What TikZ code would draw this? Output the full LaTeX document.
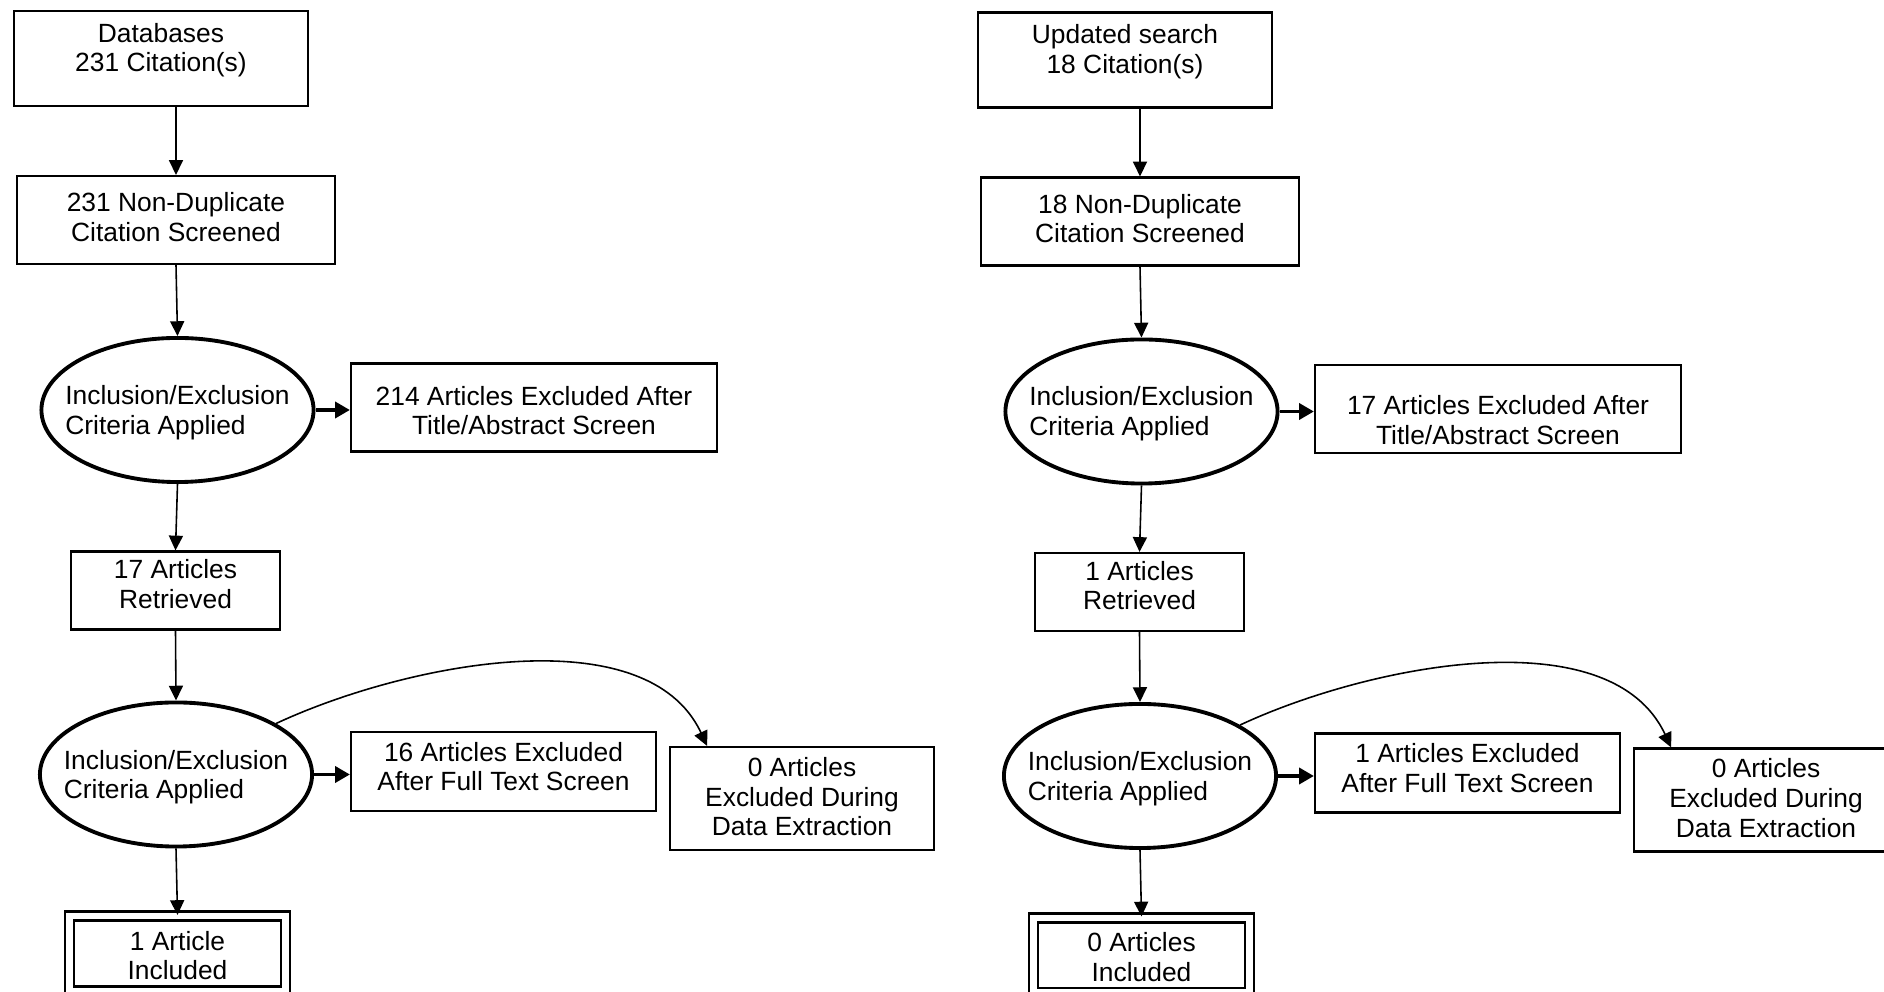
\documentclass[tikz,border=0pt]{standalone}
\usepackage{fontspec}
\setmainfont{Liberation Sans}
\usetikzlibrary{arrows.meta,shapes.geometric}
% invisible strut that pushes a first line down
\newcommand{\firstdrop}[1]{\rule{0pt}{#1}}

\begin{document}
\begin{tikzpicture}[x=0.01cm, y=0.01cm,
    flowbox/.style={draw, line width=0.6pt, align=center, inner sep=0pt,
      font=\fontsize{7.5}{8.4}\selectfont},
    textup/.style={execute at end node={\rule[-#1]{0pt}{0pt}}},
    critoval/.style={draw, ellipse, line width=1.1pt, inner sep=0pt,
      minimum width=2.72cm, minimum height=1.44cm},
    critlabel/.style={align=left, inner sep=0pt, yshift=-0.7pt,
      font=\fontsize{7.5}{8.4}\selectfont},
    finalbox/.style={flowbox, double, line width=0.77pt, double distance=1.8pt},
    arr/.style={-{Triangle[length=4.2pt,width=4pt]}, line width=0.45pt},
    sidearr/.style={-{Triangle[length=4.2pt,width=4.6pt]}, line width=0.9pt}]
    \useasboundingbox (0,0) rectangle (1884,-992);
    \clip (0,0) rectangle (1884,-992);

    % first search
    \node[flowbox, textup=6.15pt, minimum width=2.94cm, minimum height=0.95cm] (searchL) at (161,-58.5) {Databases\\231 Citation(s)};
    \node[flowbox, textup=1.6pt, minimum width=3.18cm, minimum height=0.88cm] (dedupL) at (176,-220) {231 Non-Duplicate\\Citation Screened};
    \node[critoval, label={[critlabel]center:{Inclusion/Exclusion\\Criteria Applied}}] (titleL) at (177.5,-410) {};
    \node[flowbox, minimum width=3.66cm, minimum height=0.88cm] (exTitleL) at (534,-407.5) {\firstdrop{7.2pt}214 Articles Excluded After\\Title/Abstract Screen};
    \node[flowbox, textup=3.75pt, minimum width=2.09cm, minimum height=0.78cm] (retrL) at (175.5,-590.5) {17 Articles\\Retrieved};
    \node[critoval, label={[critlabel]center:{Inclusion/Exclusion\\Criteria Applied}}] (fullL) at (176,-774.5) {};
    \node[flowbox, textup=3pt, minimum width=3.05cm, minimum height=0.79cm] (exFullL) at (503.5,-771.5) {16 Articles Excluded\\After Full Text Screen};
    \node[flowbox, textup=1.15pt, minimum width=2.64cm, minimum height=1.03cm] (exDataL) at (802,-798.5) {0 Articles\\Excluded During\\Data Extraction};
    \node[finalbox, minimum width=2.16cm, minimum height=0.747cm] (inclL) at (177.5,-953.7) {\firstdrop{6.6pt}1 Article\\Included};

    \draw[arr] (searchL.south -| dedupL.north) -- (dedupL.north);
    \draw[arr] (dedupL.south) -- (titleL.north);
    \draw[sidearr] (titleL.east) -- (titleL.east -| exTitleL.west);
    \draw[arr] (titleL.south) -- (retrL.north);
    \draw[arr] (retrL.south) -- (fullL.north);
    \draw[sidearr] (fullL.east) -- (fullL.east -| exFullL.west);
    \draw[arr] (fullL.27) to[out=25, in=115, looseness=0.85] (exDataL.151);
    \draw[arr] (fullL.south) -- (inclL.north);

    % updated search
    \node[flowbox, textup=6.15pt, minimum width=2.94cm, minimum height=0.95cm] (searchR) at (1125,-60) {Updated search\\18 Citation(s)};
    \node[flowbox, textup=1.6pt, minimum width=3.18cm, minimum height=0.88cm] (dedupR) at (1140,-221.5) {18 Non-Duplicate\\Citation Screened};
    \node[critoval, label={[critlabel]center:{Inclusion/Exclusion\\Criteria Applied}}] (titleR) at (1141.5,-411.5) {};
    \node[flowbox, minimum width=3.66cm, minimum height=0.88cm] (exTitleR) at (1498,-409) {\firstdrop{11.7pt}17 Articles Excluded After\\Title/Abstract Screen};
    \node[flowbox, textup=3.75pt, minimum width=2.09cm, minimum height=0.78cm] (retrR) at (1139.5,-592) {1 Articles\\Retrieved};
    \node[critoval, label={[critlabel]center:{Inclusion/Exclusion\\Criteria Applied}}] (fullR) at (1140,-776) {};
    \node[flowbox, textup=3pt, minimum width=3.05cm, minimum height=0.79cm] (exFullR) at (1467.5,-773) {1 Articles Excluded\\After Full Text Screen};
    \node[flowbox, textup=1.15pt, minimum width=2.64cm, minimum height=1.03cm] (exDataR) at (1766,-800) {0 Articles\\Excluded During\\Data Extraction};
    \node[finalbox, minimum width=2.16cm, minimum height=0.747cm] (inclR) at (1141.5,-955.2) {\firstdrop{6.6pt}0 Articles\\Included};

    \draw[arr] (searchR.south -| dedupR.north) -- (dedupR.north);
    \draw[arr] (dedupR.south) -- (titleR.north);
    \draw[sidearr] (titleR.east) -- (titleR.east -| exTitleR.west);
    \draw[arr] (titleR.south) -- (retrR.north);
    \draw[arr] (retrR.south) -- (fullR.north);
    \draw[sidearr] (fullR.east) -- (fullR.east -| exFullR.west);
    \draw[arr] (fullR.27) to[out=25, in=115, looseness=0.85] (exDataR.151);
    \draw[arr] (fullR.south) -- (inclR.north);
\end{tikzpicture}
\end{document}
